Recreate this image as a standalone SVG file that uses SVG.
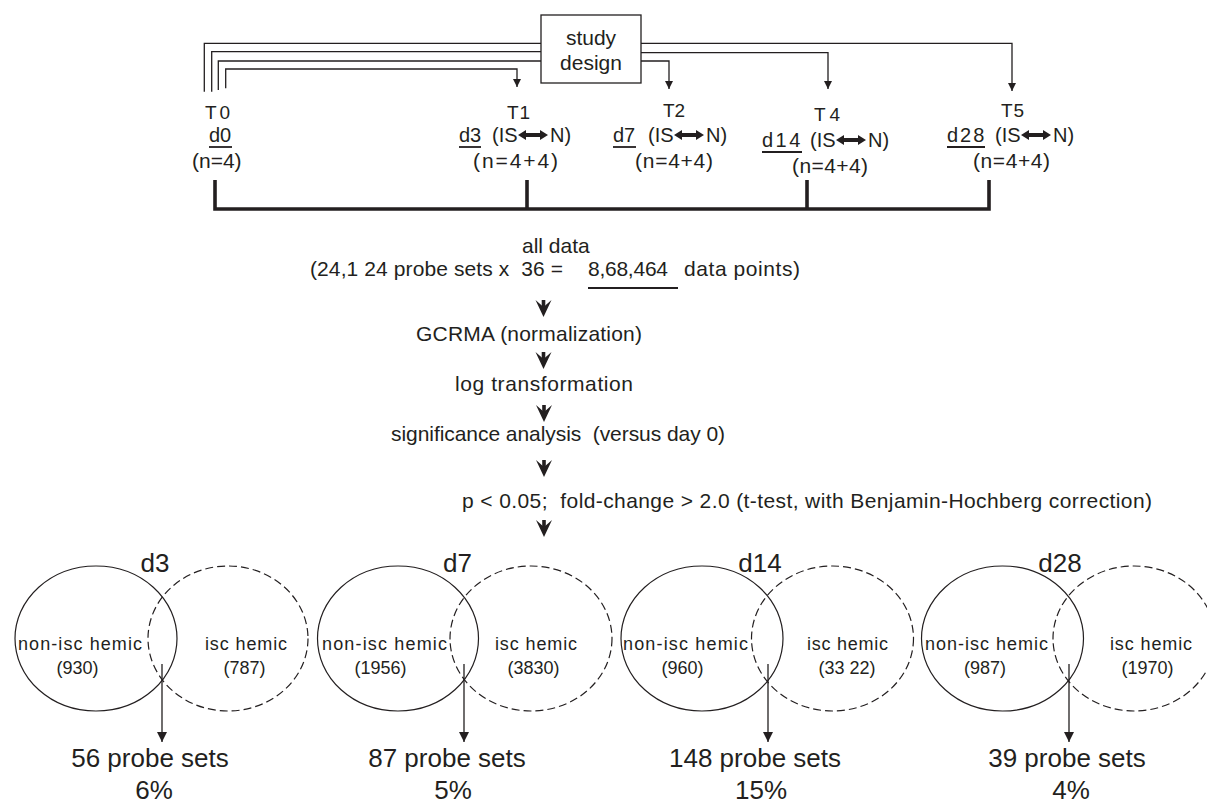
<svg xmlns="http://www.w3.org/2000/svg" width="1207" height="805" viewBox="0 0 1207 805">
<style>
text{font-family:"Liberation Sans",Arial,sans-serif;fill:#231f20}
.t{font-size:19px}
.d{font-size:20px}
.n{font-size:21px}
.f{font-size:21px}
.v{font-size:18px}
.big{font-size:26px}
.ln{fill:none;stroke:#231f20;stroke-width:1.3}
.ul{stroke:#231f20;stroke-width:1.8}
.bar{fill:none;stroke:#231f20;stroke-width:3.6;stroke-linejoin:miter}
.solid{fill:none;stroke:#231f20;stroke-width:1.2}
.dash{fill:none;stroke:#231f20;stroke-width:1.2;stroke-dasharray:8 4}
</style>
<defs>
<marker id="ah" viewBox="0 0 10 10" refX="10" refY="5" markerWidth="9" markerHeight="8" markerUnits="userSpaceOnUse" orient="auto"><path d="M0,0 L10,5 L0,10 z" fill="#231f20"/></marker>
<marker id="ahL" viewBox="0 0 10 10" refX="10" refY="5" markerWidth="12" markerHeight="10" markerUnits="userSpaceOnUse" orient="auto"><path d="M0,0 L10,5 L0,10 z" fill="#231f20"/></marker>
<g id="chev"><path d="M-8,0 L0,7 L8,0 L0,17 Z" fill="#231f20"/><rect x="-1.8" y="0" width="3.6" height="9" fill="#231f20"/></g>
<path id="dbl" d="M0,0 L8,-5 L8,-2 L22,-2 L22,-5 L30,0 L22,5 L22,2 L8,2 L8,5 Z" fill="#231f20"/>
</defs>

<g id="study-design">
<rect x="541" y="15" width="100" height="68" fill="#fff" stroke="#231f20" stroke-width="1.3"/>
<text x="591" y="45" text-anchor="middle" style="font-size:21px">study</text>
<text x="591" y="70" text-anchor="middle" style="font-size:21px">design</text>
</g>

<g id="connectors">
<path class="ln" d="M541,43.3 H204.3 V91.7"/>
<path class="ln" d="M541,51.7 H211.7 V91.7"/>
<path class="ln" d="M541,61 H218.3 V90"/>
<path class="ln" d="M225.7,88.3 V69 H517 V87" marker-end="url(#ah)"/>
<path class="ln" d="M641,61 H669 V89" marker-end="url(#ah)"/>
<path class="ln" d="M641,52.7 H828 V89" marker-end="url(#ah)"/>
<path class="ln" d="M641,43.3 H1012 V91" marker-end="url(#ah)"/>
<path class="bar" d="M215,180 V209 H989 V180"/>
<path class="bar" d="M527,180 V209"/>
<path class="bar" d="M807,180 V209"/>
<use href="#chev" x="543.5" y="300"/>
<use href="#chev" x="543.5" y="352"/>
<use href="#chev" x="544" y="405"/>
<use href="#chev" x="544" y="460"/>
<use href="#chev" x="544" y="520"/>
<path class="ln" d="M162,664 V742" marker-end="url(#ahL)"/>
<path class="ln" d="M464,664 V742" marker-end="url(#ahL)"/>
<path class="ln" d="M768,664 V742" marker-end="url(#ahL)"/>
<path class="ln" d="M1069,664 V742" marker-end="url(#ahL)"/>
</g>

<g id="T0">
<text class="t" x="205" y="119" letter-spacing="3">T0</text>
<text class="d" x="209" y="142">d0</text>
<line class="ul" x1="209" y1="147" x2="232" y2="147"/>
<text class="n" x="192" y="168">(n=4)</text>
</g>
<g id="T1">
<text class="t" x="507" y="119" letter-spacing="1">T1</text>
<text class="d" x="459" y="142">d3</text>
<line class="ul" x1="459" y1="147" x2="481" y2="147"/>
<text class="d" x="492" y="142">(IS</text>
<use href="#dbl" x="518" y="135"/>
<text class="d" x="550" y="142">N)</text>
<text class="n" x="473" y="168" textLength="85">(n=4+4)</text>
</g>
<g id="T2">
<text class="t" x="663" y="117">T2</text>
<text class="d" x="613" y="142">d7</text>
<line class="ul" x1="613" y1="147" x2="636" y2="147"/>
<text class="d" x="648" y="142">(IS</text>
<use href="#dbl" x="674" y="135"/>
<text class="d" x="706" y="142">N)</text>
<text class="n" x="635" y="168" textLength="78">(n=4+4)</text>
</g>
<g id="T4">
<text class="t" x="814" y="121" letter-spacing="4">T4</text>
<text class="d" x="762" y="147" letter-spacing="2.5">d14</text>
<line class="ul" x1="762" y1="152" x2="802" y2="152"/>
<text class="d" x="810" y="147">(IS</text>
<use href="#dbl" x="836" y="140"/>
<text class="d" x="868" y="147">N)</text>
<text class="n" x="792" y="173" textLength="76">(n=4+4)</text>
</g>
<g id="T5">
<text class="t" x="1001" y="117" letter-spacing="1">T5</text>
<text class="d" x="947" y="142" letter-spacing="2">d28</text>
<line class="ul" x1="947" y1="147" x2="985" y2="147"/>
<text class="d" x="995" y="142">(IS</text>
<use href="#dbl" x="1021" y="135"/>
<text class="d" x="1053" y="142">N)</text>
<text class="n" x="973" y="168" textLength="77">(n=4+4)</text>
</g>

<g id="all-data">
<text class="f" x="522" y="253">all data</text>
<text class="f" x="310" y="276" xml:space="preserve" textLength="253">(24,1 24 probe sets x  36 =</text>
<text class="f" x="588" y="276" textLength="80">8,68,464</text>
<line x1="588" y1="288" x2="678" y2="288" stroke="#231f20" stroke-width="2"/>
<text class="f" x="684" y="276" textLength="116">data points)</text>
</g>
<g id="gcrma"><text class="f" x="416" y="341" textLength="226">GCRMA (normalization)</text></g>
<g id="log"><text class="f" x="455" y="391" textLength="178">log transformation</text></g>
<g id="significance"><text class="f" x="391" y="441" xml:space="preserve" textLength="334">significance analysis  (versus day 0)</text></g>
<g id="filter"><text class="f" x="462" y="508" xml:space="preserve" textLength="690">p &lt; 0.05;  fold-change &gt; 2.0 (t-test, with Benjamin-Hochberg correction)</text></g>

<g id="venn-d3">
<ellipse class="solid" cx="96" cy="638.5" rx="81" ry="72.5"/>
<ellipse class="dash" cx="228" cy="638.5" rx="80" ry="72.5"/>
<text class="big" x="155" y="572" text-anchor="middle">d3</text>
<text class="v" x="18" y="650" textLength="124">non-isc hemic</text>
<text class="v" x="77.5" y="674" text-anchor="middle">(930)</text>
<text class="v" x="205" y="650" textLength="82">isc hemic</text>
<text class="v" x="244.5" y="674" text-anchor="middle">(787)</text>
<text class="big" x="150" y="767" text-anchor="middle">56 probe sets</text>
<text class="big" x="154" y="799" text-anchor="middle">6%</text>
</g>
<g id="venn-d7">
<ellipse class="solid" cx="398" cy="638.5" rx="80.5" ry="72.5"/>
<ellipse class="dash" cx="531" cy="638.5" rx="81" ry="72.5"/>
<text class="big" x="457.5" y="572" text-anchor="middle">d7</text>
<text class="v" x="322" y="650" textLength="125">non-isc hemic</text>
<text class="v" x="380.5" y="674" text-anchor="middle">(1956)</text>
<text class="v" x="495" y="650" textLength="82">isc hemic</text>
<text class="v" x="533.5" y="674" text-anchor="middle">(3830)</text>
<text class="big" x="447" y="767" text-anchor="middle">87 probe sets</text>
<text class="big" x="453" y="799" text-anchor="middle">5%</text>
</g>
<g id="venn-d14">
<ellipse class="solid" cx="702" cy="638.5" rx="81" ry="72.5"/>
<ellipse class="dash" cx="832.5" cy="638.5" rx="81" ry="72.5"/>
<text class="big" x="760" y="572" text-anchor="middle">d14</text>
<text class="v" x="623" y="650" textLength="125">non-isc hemic</text>
<text class="v" x="682.5" y="674" text-anchor="middle">(960)</text>
<text class="v" x="807" y="650" textLength="81">isc hemic</text>
<text class="v" x="847" y="674" text-anchor="middle">(33 22)</text>
<text class="big" x="755" y="767" text-anchor="middle">148 probe sets</text>
<text class="big" x="761" y="799" text-anchor="middle">15%</text>
</g>
<g id="venn-d28">
<ellipse class="solid" cx="1002.5" cy="638.5" rx="81" ry="72.5"/>
<ellipse class="dash" cx="1134" cy="638.5" rx="81" ry="72.5"/>
<text class="big" x="1060" y="572" text-anchor="middle">d28</text>
<text class="v" x="925" y="650" textLength="123">non-isc hemic</text>
<text class="v" x="985" y="674" text-anchor="middle">(987)</text>
<text class="v" x="1110" y="650" textLength="82">isc hemic</text>
<text class="v" x="1147.5" y="674" text-anchor="middle">(1970)</text>
<text class="big" x="1067" y="767" text-anchor="middle">39 probe sets</text>
<text class="big" x="1071" y="799" text-anchor="middle">4%</text>
</g>
</svg>
